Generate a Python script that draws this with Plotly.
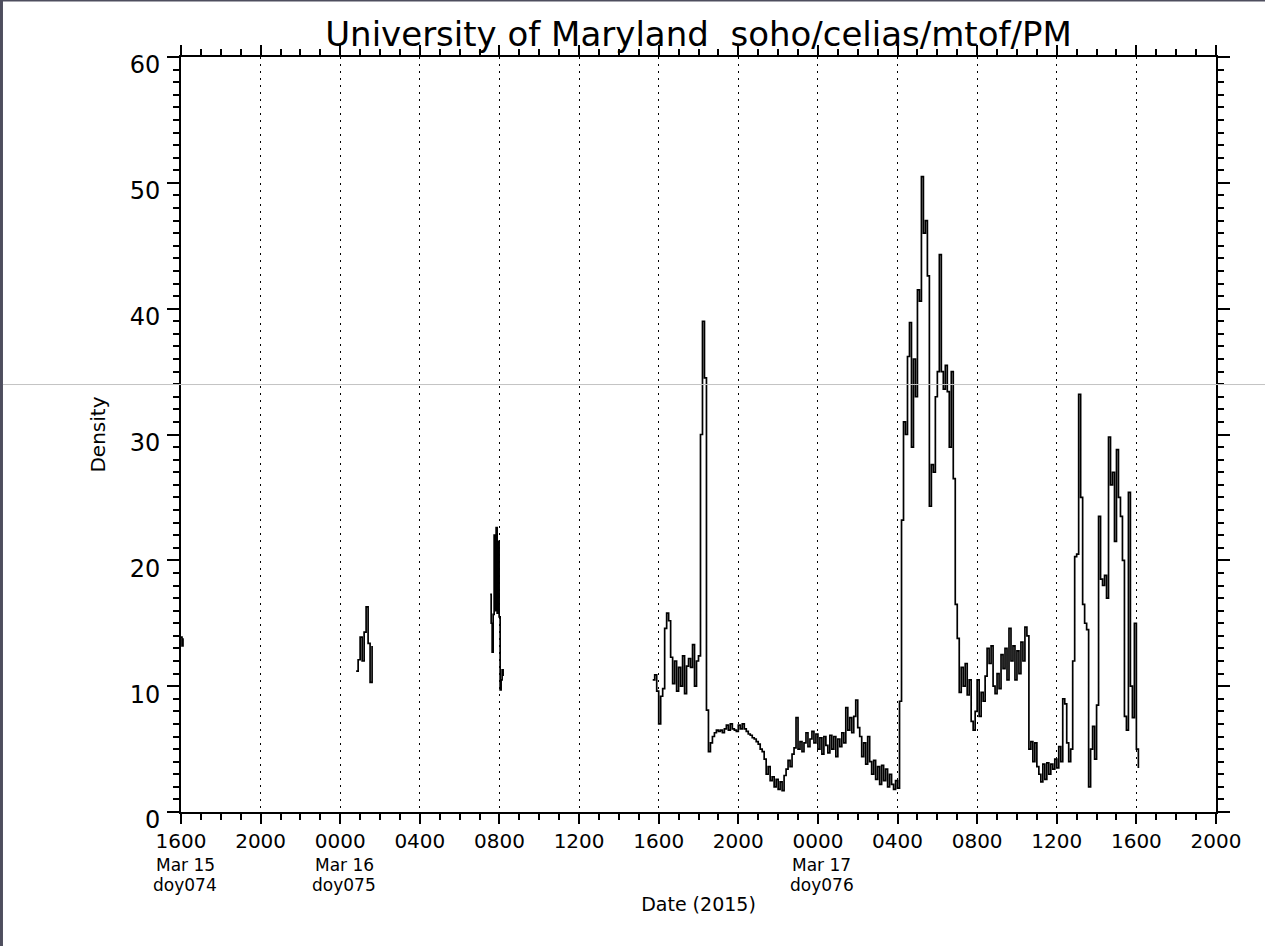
import pandas as pd
import plotly.graph_objects as go

# ---------------- data ----------------
seg0_start = "2015-03-15 16:00"
seg0_step = "3min"
seg0_density = [13.9, 13.2, 13.8]

seg1_start = "2015-03-16 00:48"
seg1_step = "6min"
seg1_density = [11.2, 12.1, 13.9, 12.0, 14.3, 16.3, 13.4, 10.3, 13.2]

seg2_start = "2015-03-16 07:32"
seg2_step = "3min"
seg2_density = [17.3, 15.0, 12.7, 15.7, 22.0, 16.0, 22.6, 15.8, 21.5, 15.5,
                9.7, 10.5, 11.3, 10.8]

seg3_start = "2015-03-16 15:42"
seg3_step = "6min"
seg3_density = [
    10.5, 10.9, 9.6, 7.0, 9.2, 9.8, 14.6, 15.8, 15.2, 12.3,
    10.2, 12.0, 9.6, 11.5, 10.0, 12.4, 9.4, 11.6, 12.2, 11.5,
    13.3, 10.0, 12.0, 12.4, 30.0, 39.0, 34.5, 8.1, 4.8, 5.5,
    6.0, 6.3, 6.5, 6.4, 6.5, 6.3, 6.6, 6.9, 6.5, 7.0,
    6.6, 6.5, 6.4, 6.9, 6.6, 7.0, 6.6, 6.4, 6.2, 6.1,
    5.9, 5.8, 5.6, 5.4, 5.0, 4.8, 4.2, 3.0, 3.6, 2.5,
    2.8, 2.0, 2.6, 1.8, 2.4, 1.7, 2.9, 3.4, 4.1, 3.6,
    4.6, 5.1, 7.5, 5.0, 5.6, 4.8, 5.5, 6.3, 5.2, 5.8,
    6.4, 5.5, 6.2, 5.0, 5.9, 4.6, 6.0, 5.3, 4.7, 6.1,
    5.0, 6.0, 4.4, 5.8, 5.2, 6.3, 5.5, 8.3, 6.5, 7.5,
    6.3, 7.6, 8.9, 6.7, 6.0, 4.4, 5.5, 3.8, 6.0, 4.0,
    3.0, 4.1, 2.6, 3.6, 2.2, 3.7, 2.5, 3.4, 2.0, 3.0,
    2.2, 1.8, 2.5, 1.9, 8.8, 23.2, 31.0, 30.0, 36.2, 38.9,
    29.0, 36.0, 33.0, 41.5, 40.6, 50.5, 46.0, 47.0, 42.6, 24.3,
    27.6, 27.0, 33.0, 35.0, 44.3, 35.0, 33.6, 35.5, 33.4, 29.0,
    35.0, 26.5, 16.5, 13.8, 9.5, 11.5, 10.0, 11.8, 9.3, 10.5,
    7.2, 6.5, 8.0, 10.5, 7.6, 9.5, 8.8, 10.8, 13.0, 11.8,
    13.2, 10.0, 9.4, 11.0, 9.8, 12.5, 11.4, 13.0, 10.5, 14.6,
    12.0, 13.2, 10.5, 12.8, 11.0, 13.5, 12.0, 14.7, 14.0, 5.0,
    5.6, 4.0, 5.5, 3.6, 3.0, 2.4, 3.8, 2.6, 3.9, 3.0,
    3.8, 3.4, 4.2, 3.5, 5.2, 4.0, 9.0, 8.6, 5.5, 4.0,
    5.0, 12.0, 20.3, 20.5, 33.2, 25.0, 16.5, 15.0, 14.5, 2.0,
    5.0, 6.8, 4.2, 8.5, 23.5, 18.5, 18.0, 18.8, 17.0, 29.8,
    26.0, 27.0, 21.5, 28.8, 25.0, 23.5, 20.0, 7.6, 6.5, 25.4,
    10.0, 7.5, 15.0, 5.0, 3.5,
]

tick_times = ["2015-03-15 16:00", "2015-03-15 20:00", "2015-03-16 00:00",
              "2015-03-16 04:00", "2015-03-16 08:00", "2015-03-16 12:00",
              "2015-03-16 16:00", "2015-03-16 20:00", "2015-03-17 00:00",
              "2015-03-17 04:00", "2015-03-17 08:00", "2015-03-17 12:00",
              "2015-03-17 16:00", "2015-03-17 20:00"]
tick_labels = ["1600", "2000", "0000", "0400", "0800", "1200", "1600",
               "2000", "0000", "0400", "0800", "1200", "1600", "2000"]
date_label_times = ["2015-03-15 16:00", "2015-03-16 00:00", "2015-03-17 00:00"]
date_label_days = ["Mar 15", "Mar 16", "Mar 17"]
date_label_doys = ["doy074", "doy075", "doy076"]
y_ticks = [0, 10, 20, 30, 40, 50, 60]

title_text = "University of Maryland&nbsp;&nbsp;soho/celias/mtof/PM"
x_title = "Date (2015)"
y_title = "Density"

# ---------------- build series with gaps ----------------
xs, ys = [], []
for start, step, vals in [(seg0_start, seg0_step, seg0_density),
                          (seg1_start, seg1_step, seg1_density),
                          (seg2_start, seg2_step, seg2_density),
                          (seg3_start, seg3_step, seg3_density)]:
    t = pd.date_range(start, periods=len(vals), freq=step)
    xs.extend(list(t))
    ys.extend(vals)
    xs.append(t[-1] + pd.Timedelta(step))
    ys.append(None)

FONT = "DejaVu Sans"

fig = go.Figure()
fig.add_trace(go.Scatter(
    x=xs, y=ys, mode="lines", line=dict(color="black", width=1.7, shape="hv"),
    connectgaps=False, showlegend=False, hoverinfo="skip"))

fig.update_layout(
    width=1265, height=946, autosize=False,
    paper_bgcolor="white", plot_bgcolor="white",
    margin=dict(l=181, r=49, t=57, b=134, pad=0),
    title=dict(text=title_text, x=0.5, xref="paper", xanchor="center",
               y=1.0, yref="paper", yanchor="bottom", pad=dict(b=11),
               font=dict(family=FONT, size=34, color="black")),
    font=dict(family=FONT, color="black"),
)

fig.update_xaxes(
    type="date",
    range=[tick_times[0], tick_times[-1]],
    tickmode="array", tickvals=tick_times, ticktext=tick_labels,
    tickfont=dict(family=FONT, size=20, color="black"),
    ticks="outside", ticklen=10, tickwidth=2, tickcolor="black",
    showline=True, linecolor="black", linewidth=2, mirror="ticks",
    showgrid=True, gridcolor="black", gridwidth=1, griddash="1.5px,5.5px",
    zeroline=False,
    minor=dict(ticks="outside", ticklen=6, tickwidth=2, tickcolor="black",
               dtick=3600000, tick0=tick_times[0], showgrid=False),
    title=dict(text=x_title, font=dict(family=FONT, size=19, color="black"),
               standoff=46),
    ticklabelstandoff=0,
)

fig.update_yaxes(
    range=[0, 60],
    tickmode="array", tickvals=y_ticks,
    tickfont=dict(family=FONT, size=24, color="black"),
    ticks="outside", ticklen=12, tickwidth=2, tickcolor="black",
    showline=True, linecolor="black", linewidth=2, mirror="ticks",
    showgrid=False, zeroline=False,
    minor=dict(ticks="outside", ticklen=6, tickwidth=2, tickcolor="black",
               dtick=1, tick0=0, showgrid=False),
    title=dict(text=y_title, font=dict(family=FONT, size=20, color="black"),
               standoff=19),
    ticklabelshift=8,
    ticklabelstandoff=2,
)

# second and third lines of the date labels
for t, d, doy in zip(date_label_times, date_label_days, date_label_doys):
    fig.add_annotation(x=t, xref="x", y=0, yref="paper", text=d,
                       showarrow=False, xanchor="center", yanchor="top",
                       yshift=-42, xshift=4, borderpad=0,
                       font=dict(family=FONT, size=17, color="black"))
    fig.add_annotation(x=t, xref="x", y=0, yref="paper", text=doy,
                       showarrow=False, xanchor="center", yanchor="top",
                       yshift=-62, xshift=4, borderpad=0,
                       font=dict(family=FONT, size=17, color="black"))

# page frame details visible in the reference screenshot
fig.add_shape(type="rect", xref="paper", yref="paper",
              x0=-0.1749, x1=-0.1720, y0=-0.1775, y1=1.0755,
              fillcolor="#4e4e5e", line=dict(width=0), layer="above")
fig.add_shape(type="rect", xref="paper", yref="paper",
              x0=-0.1749, x1=1.0474, y0=1.0735, y1=1.0755,
              fillcolor="#4e4e5e", line=dict(width=0), layer="above")
fig.add_shape(type="line", xref="paper", yref="paper",
              x0=-0.1720, x1=1.0474, y0=0.5662, y1=0.5662,
              line=dict(color="#c4c4c4", width=1), layer="above")

fig.write_html(
    "out.html",
    config={"displayModeBar": False},
    post_script="document.body.style.margin='0px';document.body.style.overflow='hidden';",
)
